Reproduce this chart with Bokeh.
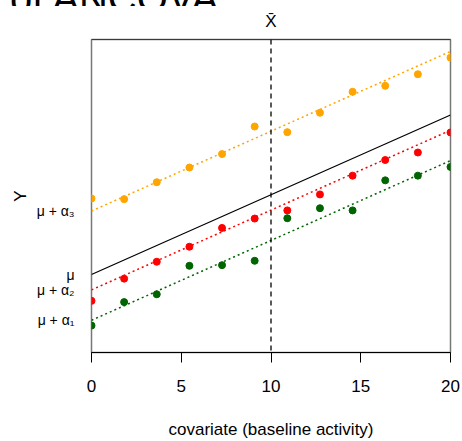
from bokeh.plotting import figure
from bokeh.layouts import column
from bokeh.models import Range1d, FixedTicker, LinearAxis, Span, Div
from bokeh.embed import file_html
from bokeh.resources import INLINE

# data (y in arbitrary units)
x_vals = [0, 20/11, 40/11, 60/11, 80/11, 100/11, 120/11, 140/11, 160/11, 180/11, 200/11, 20]
y_orange = [4.92, 4.90, 5.44, 5.91, 6.34, 7.22, 7.04, 7.66, 8.33, 8.52, 8.89, 9.42]
y_red = [1.65, 2.36, 2.90, 3.38, 3.98, 4.28, 4.54, 5.05, 5.65, 6.15, 6.39, 7.03]
y_green = [0.86, 1.61, 1.86, 2.77, 2.79, 2.93, 4.29, 4.61, 4.54, 5.50, 5.65, 5.93]

mu = 2.49
alpha = [-1.46, -0.49, 2.03]   # groups 1 (green), 2 (red), 3 (orange)
slope = 0.255
x_mean = 10
x_line = [0, 20]

tick_pos = [mu + alpha[0], mu + alpha[1], mu, mu + alpha[2]]
tick_labels = ["μ + α₁", "μ + α₂", "μ", "μ + α₃"]
x_ticks = [0, 5, 10, 15, 20]
title_text = "of ANCOVA"

FONT = "Liberation Sans"

# strip showing the bottom of the (cut-off) slide title
t = Div(text=('<div style="margin:-28px 0 0 10px; font-family:\'Liberation Sans\'; '
              'font-size:40px; line-height:40px; color:black; white-space:nowrap;">'
              + title_text + '</div>'),
        width=462, height=6, margin=0, styles={"overflow": "hidden"})

p = figure(width=462, height=435, output_backend="svg", toolbar_location=None,
           x_range=Range1d(0, 20), y_range=Range1d(0, 10),
           min_border_left=91, min_border_right=12, min_border_top=33, min_border_bottom=85)
p.grid.visible = False
p.outline_line_color = "#777777"
p.outline_line_width = 1.5
p.background_fill_color = "white"
p.border_fill_color = "white"

xa = p.xaxis[0]
xa.ticker = FixedTicker(ticks=x_ticks)
xa.major_tick_out = 10
xa.major_tick_in = 0
xa.minor_tick_line_color = None
xa.axis_line_color = "black"
xa.major_tick_line_color = "black"
xa.major_label_text_font = FONT
xa.major_label_text_font_size = "17px"
xa.major_label_text_color = "black"
xa.major_label_standoff = 17
xa.axis_label = "covariate (baseline activity)"
xa.axis_label_text_font = FONT
xa.axis_label_text_font_style = "normal"
xa.axis_label_text_font_size = "17px"
xa.axis_label_text_color = "black"
xa.axis_label_standoff = 25

ya = p.yaxis[0]
ya.ticker = FixedTicker(ticks=tick_pos)
ya.major_label_overrides = {t_: l for t_, l in zip(tick_pos, tick_labels)}
ya.major_tick_line_color = None
ya.minor_tick_line_color = None
ya.axis_line_color = None
ya.major_label_orientation = "horizontal"
ya.major_label_text_font = FONT
ya.major_label_text_font_size = "14px"
ya.major_label_text_color = "black"
ya.major_label_standoff = 11
ya.axis_label = "Y"
ya.axis_label_text_font = FONT
ya.axis_label_text_font_style = "normal"
ya.axis_label_text_font_size = "17px"
ya.axis_label_text_color = "black"
ya.axis_label_standoff = 4

top = LinearAxis(ticker=FixedTicker(ticks=[x_mean]),
                 major_label_overrides={x_mean: "X̄"},
                 axis_line_color=None, major_tick_line_color=None, minor_tick_line_color=None,
                 major_label_text_font=FONT, major_label_text_font_size="17px",
                 major_label_text_color="black", major_label_standoff=3)
p.add_layout(top, "above")

p.add_layout(Span(location=10, dimension="width", line_color="black", line_width=1.2))
p.add_layout(Span(location=x_mean, dimension="height", line_color="black",
                  line_dash="5 4", line_width=1.3))

groups = [("darkgreen", y_green, alpha[0]), ("red", y_red, alpha[1]), ("orange", y_orange, alpha[2])]
for col, ys, a in groups:
    p.line(x_line, [mu + a + slope * xx for xx in x_line], line_color=col,
           line_dash="2 3", line_width=1.5)
p.line(x_line, [mu + slope * xx for xx in x_line], line_color="black", line_width=1.2)
for col, ys, a in groups:
    p.scatter(x_vals, ys, size=7, fill_color=col, line_color=col)

layout = column(t, p, spacing=0)
open("out.html", "w").write(file_html(layout, INLINE))
